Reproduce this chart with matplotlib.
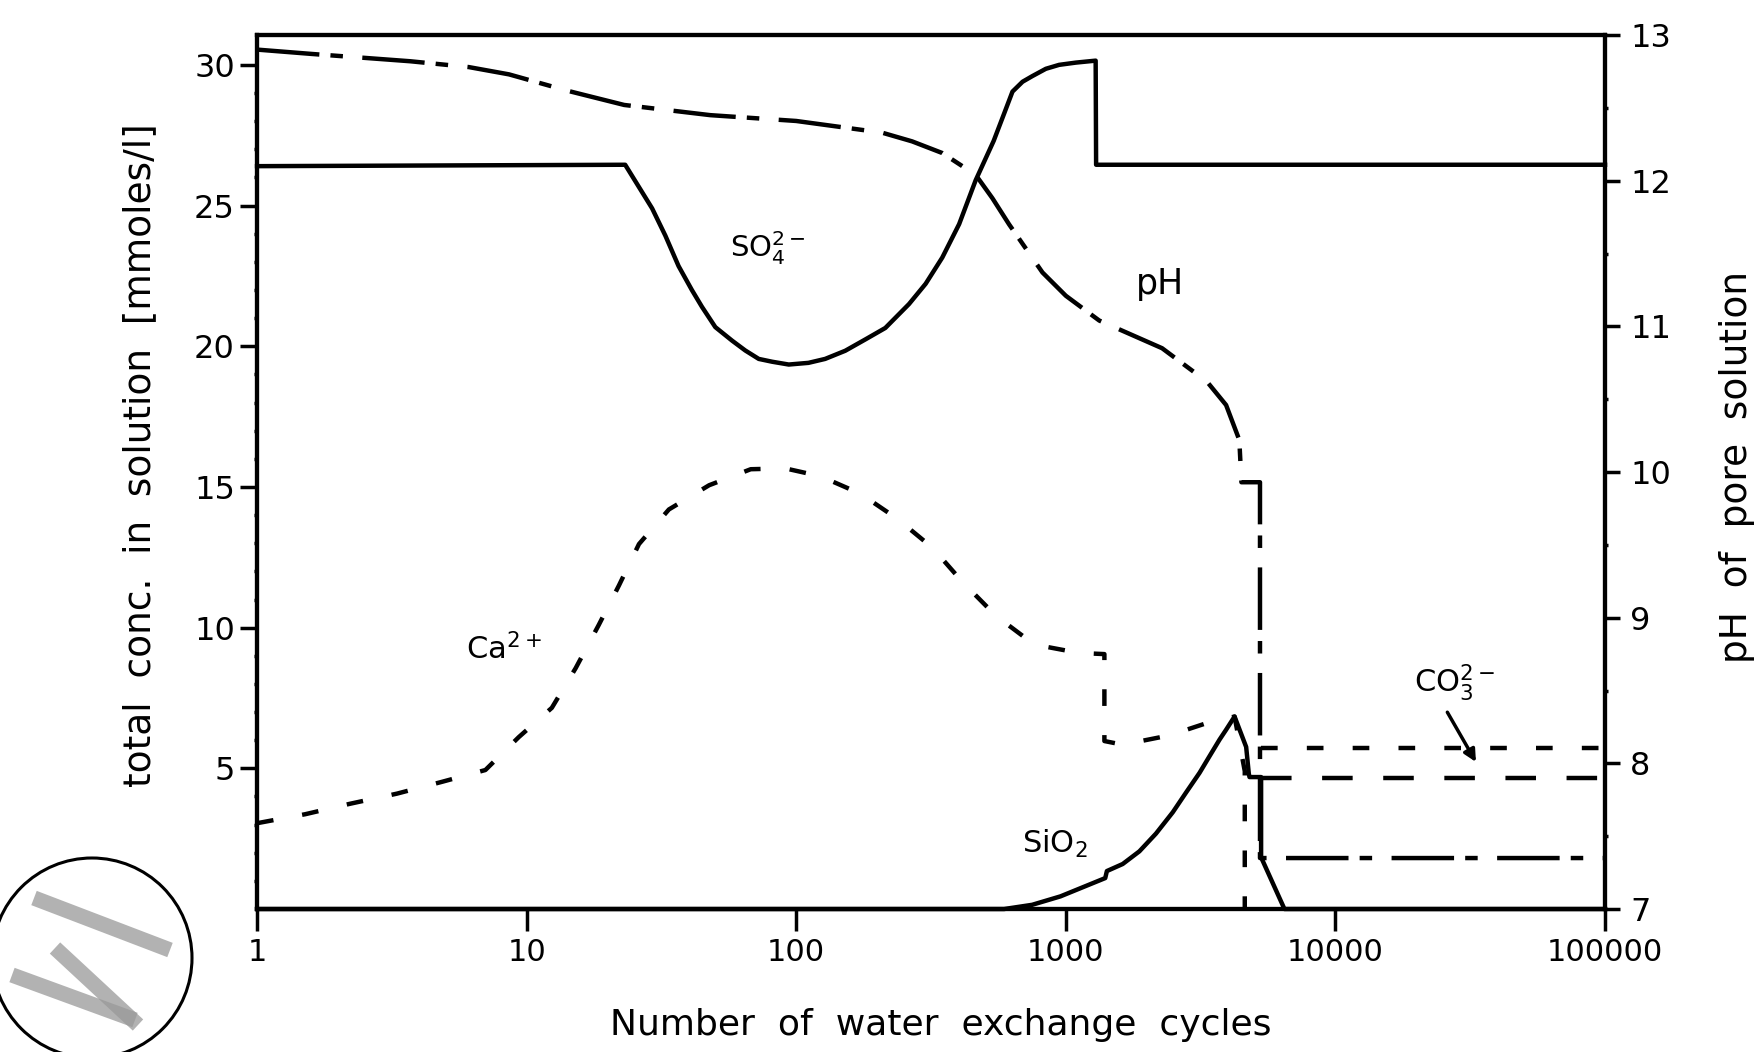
import numpy as np
import matplotlib.pyplot as plt
from matplotlib.patches import Ellipse
from matplotlib.lines import Line2D
from matplotlib.ticker import NullLocator

plt.rcParams['font.family'] = ['DejaVu Sans']
plt.rcParams['lines.scale_dashes'] = False

# Sulphate: flat, dip near 100 cycles, peak then step at ~1300 cycles
so4_cycles = [1, 23.2, 29.2, 32.7, 36.6, 41.0, 44.7, 50.1, 57.8, 64.7, 72.6, 81.4, 93.8, 111,
              128, 152, 181, 214, 262, 302, 348, 402, 463, 540, 592, 634, 691, 751, 843, 944,
              1089, 1290, 1295, 1e5]
so4_conc = [26.4, 26.45, 24.9, 23.93, 22.85, 22.0, 21.4, 20.68, 20.2, 19.85, 19.55, 19.45, 19.35,
            19.41, 19.55, 19.84, 20.25, 20.65, 21.5, 22.22, 23.15, 24.34, 25.9, 27.3, 28.3, 29.05,
            29.4, 29.6, 29.86, 30.0, 30.08, 30.15, 26.45, 26.45]

# Calcium
ca_cycles = [1, 1.51, 2.21, 3.30, 4.85, 7.03, 9.35, 12.4, 15.2, 18.5, 22.0, 26.1, 33.7, 47.5,
             67.8, 91, 123, 173, 237, 320, 413, 549, 763, 1120, 1390, 1390, 1625, 2420, 3410,
             4225, 4610, 4610]
ca_conc = [3.05, 3.37, 3.74, 4.10, 4.52, 4.94, 6.11, 7.15, 8.56, 10.09, 11.50, 12.97, 14.20, 15.06,
           15.63, 15.66, 15.38, 14.76, 13.87, 12.84, 11.63, 10.43, 9.40, 9.10, 9.06, 5.97, 5.84, 6.17,
           6.64, 6.84, 4.9, 0]
ca_tail_cycles = [5300, 1e5]
ca_tail_conc = [5.72, 5.72]

# Carbonate (only after the pH collapse)
co3_cycles = [5300, 1e5]
co3_conc = [4.67, 4.67]

# Silica
sio2_cycles = [1, 590, 750, 955, 1400, 1420, 1625, 1874, 2159, 2493, 2792, 3133, 3411, 3716,
               3930, 4225, 4665, 4772, 4800, 5300, 5300, 6470, 1e5]
sio2_conc = [0, 0, 0.15, 0.45, 1.1, 1.35, 1.6, 2.05, 2.68, 3.44, 4.14, 4.84, 5.43, 6.02,
             6.37, 6.84, 5.76, 4.81, 4.69, 4.69, 1.84, 0, 0]

# pH of pore solution (right axis)
ph_cycles = [1, 1.6, 3.7, 6.1, 8.6, 14, 23, 48, 100, 208, 269, 348, 463, 534, 616, 819, 1000,
             1330, 2275, 3340, 3930, 4400, 4480, 5250, 5250, 1e5]
ph_values = [12.90, 12.87, 12.82, 12.78, 12.73, 12.62, 12.52, 12.45, 12.41, 12.33, 12.27, 12.19,
             12.04, 11.88, 11.70, 11.37, 11.21, 11.04, 10.85, 10.62, 10.46, 10.22, 9.93, 9.93,
             7.35, 7.35]

x_ticks = [1, 10, 100, 1000, 10000, 100000]
x_tick_labels = ['1', '10', '100', '1000', '10000', '100000']
conc_ticks = [5, 10, 15, 20, 25, 30]
ph_ticks = [7, 8, 9, 10, 11, 12, 13]

fig = plt.figure(figsize=(17.63, 10.52), dpi=100)
ax = fig.add_axes([0.1458, 0.1359, 0.7646, 0.8308])
ax.set_xscale('log')
ax.set_xlim(1, 1e5)
ax.set_ylim(0, 31.06)

lw = 3.2
ca_dash = (0, (12, 21))
co3_dash = (0, (22, 22))
ph_dash = (0, (45, 8, 9, 14))

ax.plot(so4_cycles, so4_conc, color='black', lw=lw, clip_on=False, zorder=3)
ax.plot(sio2_cycles, sio2_conc, color='black', lw=lw, clip_on=False, zorder=3)
ax.plot(ca_cycles, ca_conc, color='black', lw=3.2, linestyle=ca_dash, clip_on=False)
ax.plot(ca_tail_cycles, ca_tail_conc, color='black', lw=3.2, linestyle=ca_dash)
ax.plot(co3_cycles, co3_conc, color='black', lw=3.2, linestyle=co3_dash)

ph_ax = ax.twinx()
ph_ax.set_ylim(7, 13)
ph_ax.plot(ph_cycles, ph_values, color='black', lw=3.2, linestyle=ph_dash, clip_on=False)

# ticks
ax.set_xticks(x_ticks)
ax.set_xticklabels(x_tick_labels)
ax.xaxis.set_minor_locator(NullLocator())
ax.set_yticks(conc_ticks)
ax.set_yticks(np.arange(1, 31), minor=True)
ph_ax.set_yticks(ph_ticks)
ph_ax.set_yticks(np.arange(7.5, 13, 1.0), minor=True)

ax.tick_params(axis='x', which='major', direction='out', length=16, width=2.5,
               labelsize=22, pad=5)
ax.tick_params(axis='y', which='major', direction='out', length=12, width=2.5,
               labelsize=23, pad=4)
ax.tick_params(axis='y', which='minor', direction='out', length=2.5, width=2.5)
ph_ax.tick_params(axis='y', which='major', direction='out', length=11, width=2.5,
                  labelsize=23, pad=7)
ph_ax.tick_params(axis='y', which='minor', direction='out', length=2.5, width=2.5)

for a in (ax, ph_ax):
    for s in a.spines.values():
        s.set_linewidth(3)

# curve labels
ax.text(78.7, 23.5, 'SO$_4^{2-}$', fontsize=21, ha='center', va='center')
ax.text(2230, 22.2, 'pH', fontsize=25, ha='center', va='center')
ax.text(8.2, 9.25, 'Ca$^{2+}$', fontsize=22, ha='center', va='center')
ax.text(912, 2.3, 'SiO$_2$', fontsize=22, ha='center', va='center')
ax.text(27700, 8.04, 'CO$_3^{2-}$', fontsize=22, ha='center', va='center')
ax.annotate('', xy=(33600, 5.14), xytext=(25700, 7.08),
            arrowprops=dict(arrowstyle='-|>', color='black', lw=2.5, mutation_scale=18))

# axis titles, words spaced wide as on the original typesetting
fig.text(0.5335, 0.0257, 'Number  of  water  exchange  cycles', fontsize=26,
         ha='center', va='center')
fig.text(0.0797, 0.567, 'total  conc.  in  solution  [mmoles/l]', fontsize=27,
         rotation=90, ha='center', va='center')
fig.text(0.9854, 0.5565, 'pH  of  pore  solution', fontsize=27,
         rotation=90, ha='center', va='center')

# stamp in the lower left corner
W, H = 1763, 1052
fig.add_artist(Ellipse((92 / W, 1 - 958 / H), 200 / W, 200 / H, transform=fig.transFigure,
                       fill=False, lw=2.2, color='black'))
for (x0, y0), (x1, y1) in [((34, 898), (170, 950)), ((55, 948), (138, 1025)),
                           ((12, 975), (135, 1020))]:
    fig.add_artist(Line2D([x0 / W, x1 / W], [1 - y0 / H, 1 - y1 / H], transform=fig.transFigure,
                          lw=11, color='0.6', alpha=0.75, solid_capstyle='butt'))

fig.savefig('out.png', dpi=100)
